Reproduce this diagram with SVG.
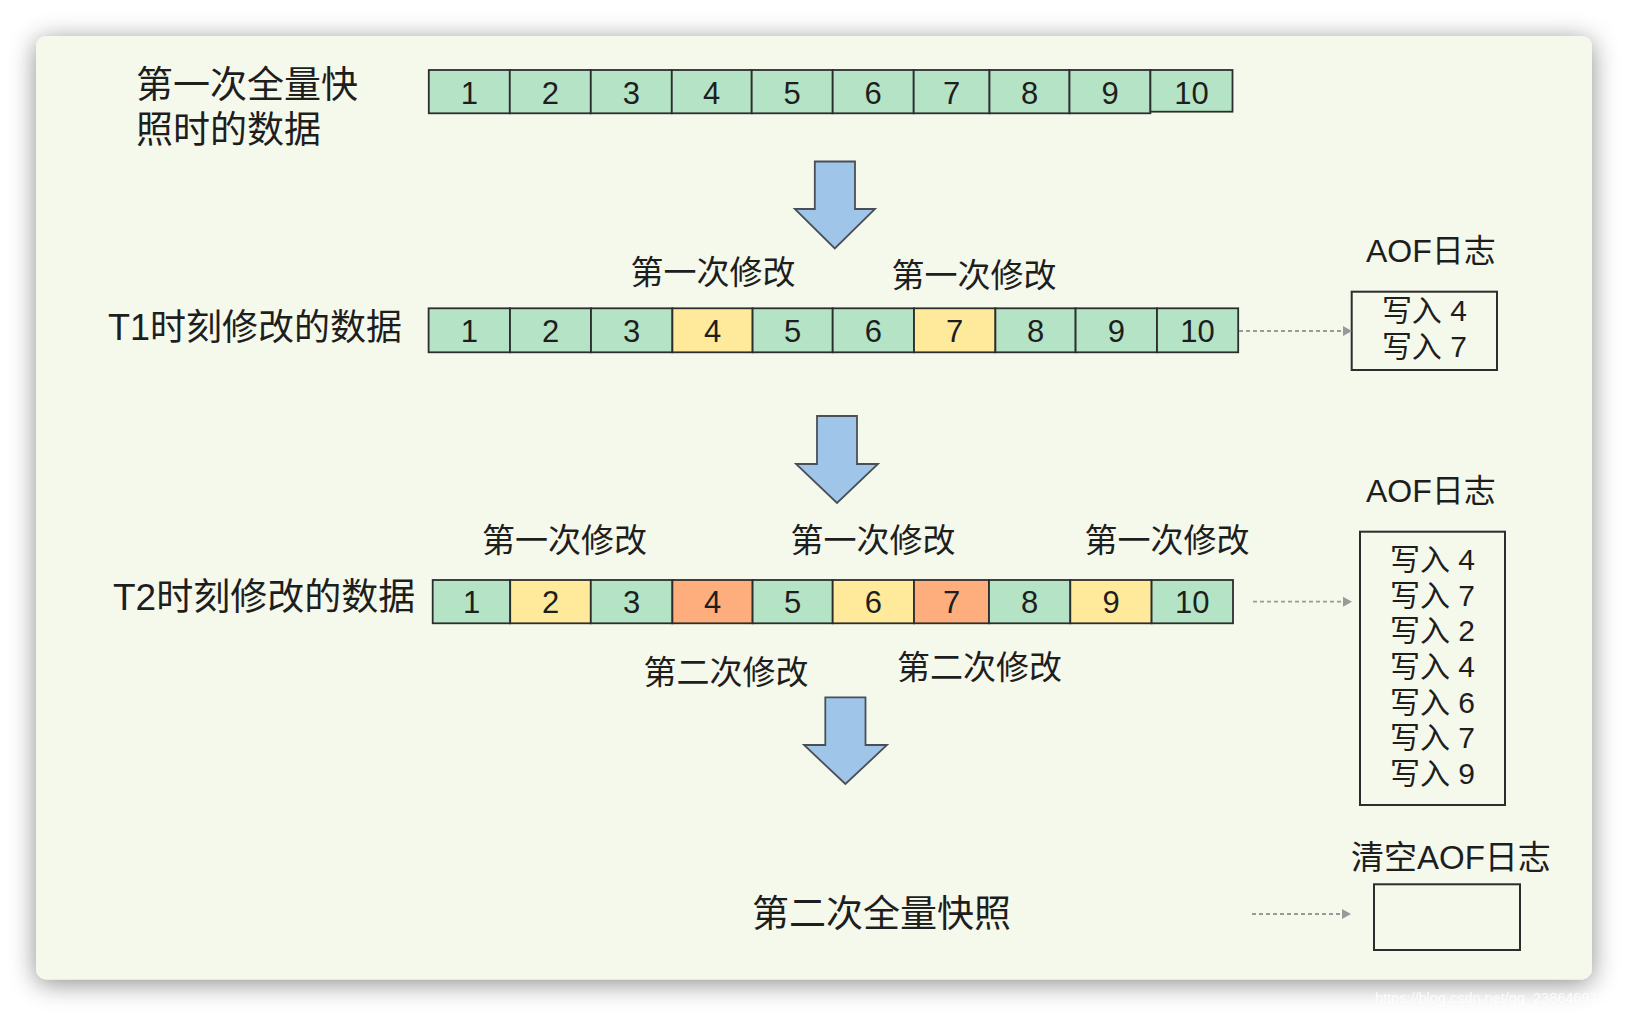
<svg xmlns="http://www.w3.org/2000/svg" width="1628" height="1016" viewBox="0 0 1628 1016">
<defs>
<filter id="shadow" x="-10%" y="-10%" width="120%" height="120%">
<feDropShadow dx="0" dy="4" stdDeviation="13" flood-color="#000" flood-opacity="0.45"/>
</filter>
<style>
.g{fill:#B4E3C5;stroke:#2d2d2d;stroke-width:1.8}
.y{fill:#FFEA9B;stroke:#2d2d2d;stroke-width:1.8}
.o{fill:#FDAE7C;stroke:#2d2d2d;stroke-width:1.8}
.n{font-family:"Liberation Sans",Arial,sans-serif;font-size:31px;fill:#1e1e1e;text-anchor:middle}
.t{font-family:"Liberation Sans","Noto Sans CJK SC",sans-serif;fill:#1e1e1e}
.big{font-size:37px}
.mid{font-size:33px}
.aof{font-size:32px}
.log{font-size:30px;text-anchor:middle}
.c{text-anchor:middle}
.box{fill:none;stroke:#2d2d2d;stroke-width:2}
.arrow{fill:#9FC5E8;stroke:#4a4f57;stroke-width:1.8;stroke-linejoin:miter}
.dash{stroke:#999;stroke-width:1.8;stroke-dasharray:4 3;fill:none}
.head{fill:#999}
</style>
</defs>
<rect x="0" y="0" width="1628" height="1016" fill="#ffffff"/>
<rect x="36" y="36" width="1556" height="943.5" rx="11" fill="#F5F9EC" filter="url(#shadow)"/>

<g id="label-snapshot1">
<text class="t big" x="136" y="98">第一次全量快</text>
<text class="t big" x="136" y="143">照时的数据</text>
</g>

<g id="row1">
<rect class="g" x="428.8" y="70" width="81" height="43.3"/>
<rect class="g" x="509.8" y="70" width="81" height="43.3"/>
<rect class="g" x="590.8" y="70" width="81" height="43.3"/>
<rect class="g" x="671.8" y="70" width="79.9" height="43.3"/>
<rect class="g" x="751.7" y="70" width="81" height="43.3"/>
<rect class="g" x="832.7" y="70" width="81" height="43.3"/>
<rect class="g" x="913.7" y="70" width="75.8" height="43.3"/>
<rect class="g" x="989.5" y="70" width="80" height="43.3"/>
<rect class="g" x="1069.5" y="70" width="80.9" height="43.3"/>
<rect class="g" x="1150.4" y="70" width="82.1" height="41.7"/>
<text class="n" x="469.3" y="104">1</text>
<text class="n" x="550.3" y="104">2</text>
<text class="n" x="631.3" y="104">3</text>
<text class="n" x="711.7" y="104">4</text>
<text class="n" x="792.2" y="104">5</text>
<text class="n" x="873.2" y="104">6</text>
<text class="n" x="951.6" y="104">7</text>
<text class="n" x="1029.5" y="104">8</text>
<text class="n" x="1110" y="104">9</text>
<text class="n" x="1191.5" y="104">10</text>
</g>

<g id="arrow1">
<polygon class="arrow" points="814.8,161.5 855,161.5 855,209 875,209 834.8,248.5 794.8,209 814.8,209"/>
</g>

<g id="labels-t1">
<text class="t mid c" x="713" y="284">第一次修改</text>
<text class="t mid c" x="974" y="287">第一次修改</text>
</g>

<g id="label-t1">
<text class="t" font-size="36" x="108" y="340">T1时刻修改的数据</text>
</g>

<g id="row2">
<rect class="g" x="428.6" y="308.3" width="81.4" height="44"/>
<rect class="g" x="510" y="308.3" width="81" height="44"/>
<rect class="g" x="591" y="308.3" width="81.4" height="44"/>
<rect class="y" x="672.4" y="308.3" width="80.2" height="44"/>
<rect class="g" x="752.6" y="308.3" width="80.1" height="44"/>
<rect class="g" x="832.7" y="308.3" width="81.3" height="44"/>
<rect class="y" x="914" y="308.3" width="81.4" height="44"/>
<rect class="g" x="995.4" y="308.3" width="80.2" height="44"/>
<rect class="g" x="1075.6" y="308.3" width="81.4" height="44"/>
<rect class="g" x="1157" y="308.3" width="81.2" height="44"/>
<text class="n" x="469.3" y="341.7">1</text>
<text class="n" x="550.5" y="341.7">2</text>
<text class="n" x="631.7" y="341.7">3</text>
<text class="n" x="712.5" y="341.7">4</text>
<text class="n" x="792.7" y="341.7">5</text>
<text class="n" x="873.4" y="341.7">6</text>
<text class="n" x="954.7" y="341.7">7</text>
<text class="n" x="1035.5" y="341.7">8</text>
<text class="n" x="1116.3" y="341.7">9</text>
<text class="n" x="1197.6" y="341.7">10</text>
</g>

<g id="aof1">
<text class="t aof" x="1366" y="262">AOF日志</text>
<rect class="box" x="1351.7" y="291.7" width="145.3" height="78.3"/>
<text class="t log" x="1424.4" y="321">写入 4</text>
<text class="t log" x="1424.4" y="357">写入 7</text>
</g>

<g id="arrow2">
<polygon class="arrow" points="817,416 857,416 857,464 878,464 837,503 796,464 817,464"/>
</g>

<g id="labels-t2-above">
<text class="t mid c" x="564.5" y="552">第一次修改</text>
<text class="t mid c" x="873" y="552">第一次修改</text>
<text class="t mid c" x="1167" y="552">第一次修改</text>
</g>

<g id="label-t2">
<text class="t big" x="113" y="610">T2时刻修改的数据</text>
</g>

<g id="row3">
<rect class="g" x="432.7" y="580" width="77.5" height="43.3"/>
<rect class="y" x="510.2" y="580" width="80.6" height="43.3"/>
<rect class="g" x="590.8" y="580" width="81.6" height="43.3"/>
<rect class="o" x="672.4" y="580" width="80.2" height="43.3"/>
<rect class="g" x="752.6" y="580" width="80.1" height="43.3"/>
<rect class="y" x="832.7" y="580" width="81.3" height="43.3"/>
<rect class="o" x="914" y="580" width="75" height="43.3"/>
<rect class="g" x="989" y="580" width="81.3" height="43.3"/>
<rect class="y" x="1070.3" y="580" width="81.3" height="43.3"/>
<rect class="g" x="1151.6" y="580" width="81.4" height="43.3"/>
<text class="n" x="471.5" y="613">1</text>
<text class="n" x="550.5" y="613">2</text>
<text class="n" x="631.6" y="613">3</text>
<text class="n" x="712.5" y="613">4</text>
<text class="n" x="792.7" y="613">5</text>
<text class="n" x="873.4" y="613">6</text>
<text class="n" x="951.5" y="613">7</text>
<text class="n" x="1029.7" y="613">8</text>
<text class="n" x="1111" y="613">9</text>
<text class="n" x="1192.3" y="613">10</text>
</g>

<g id="labels-t2-below">
<text class="t mid c" x="726" y="684">第二次修改</text>
<text class="t mid c" x="979.5" y="679">第二次修改</text>
</g>

<g id="aof2">
<text class="t aof" x="1366" y="502">AOF日志</text>
<rect class="box" x="1360" y="531.7" width="145" height="273.3"/>
<text class="t log" x="1432.5" y="570">写入 4</text>
<text class="t log" x="1432.5" y="605.7">写入 7</text>
<text class="t log" x="1432.5" y="641.4">写入 2</text>
<text class="t log" x="1432.5" y="677">写入 4</text>
<text class="t log" x="1432.5" y="712.7">写入 6</text>
<text class="t log" x="1432.5" y="748.3">写入 7</text>
<text class="t log" x="1432.5" y="784">写入 9</text>
</g>

<g id="arrow3">
<polygon class="arrow" points="825.3,697.3 865.5,697.3 865.5,745 887,745 845.4,784 804,745 825.3,745"/>
</g>

<g id="snapshot2">
<text class="t big" x="752" y="927">第二次全量快照</text>
</g>

<g id="aof3">
<text class="t mid" x="1351" y="869">清空AOF日志</text>
<rect class="box" x="1374" y="884.3" width="146" height="65.7"/>
</g>

<g id="connectors">
<line class="dash" x1="1239" y1="331" x2="1343" y2="331"/>
<polygon class="head" points="1352,331 1343,326 1343,336"/>
<line class="dash" x1="1253" y1="601.7" x2="1343" y2="601.7"/>
<polygon class="head" points="1352,601.7 1343,596.7 1343,606.7"/>
<line class="dash" x1="1252" y1="914" x2="1342" y2="914"/>
<polygon class="head" points="1351,914 1342,909 1342,919"/>
</g>

<text x="1375" y="1003" font-family="Liberation Sans, Arial, sans-serif" font-size="14.5" fill="#ffffff" fill-opacity="0.85">https://blog.csdn.net/qq_23864697</text>
</svg>
